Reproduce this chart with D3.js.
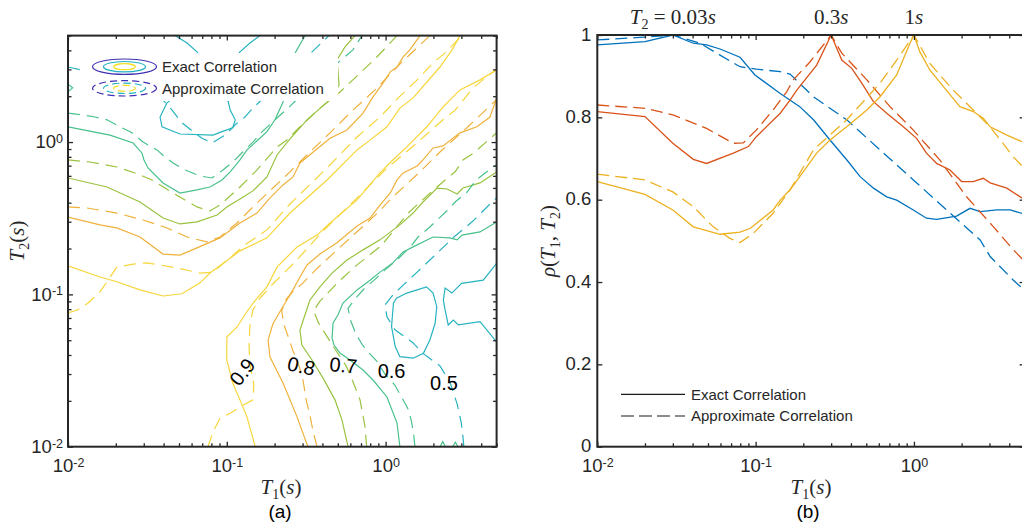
<!DOCTYPE html>
<html>
<head>
<meta charset="utf-8">
<title>Exact vs approximate correlation</title>
<script src="https://cdn.jsdelivr.net/npm/d3@7"></script>
<style>
  body { margin: 0; background: #fff; }
  svg text { font-family: "Liberation Sans", Arial, Helvetica, sans-serif; }
  svg text.tex { font-family: "Liberation Serif", "Times New Roman", serif; }
</style>
</head>
<body>
<svg id="fig" width="1022" height="529"></svg>
<script>
// ---------- ticks
var periodMajor = [0.01, 0.1, 1];
var periodMajorExp = ["-2", "-1", "0"];
var periodMinor = [0.02, 0.03, 0.04, 0.05, 0.06, 0.07, 0.08, 0.09,
                   0.2, 0.3, 0.4, 0.5, 0.6, 0.7, 0.8, 0.9, 2, 3, 4, 5];
var rhoTicks = [0, 0.2, 0.4, 0.6, 0.8, 1];
var rhoTickLabels = ["0", "0.2", "0.4", "0.6", "0.8", "1"];

// ---------- (a) contour lines, [T1, T2] in seconds
var exact90Above = [[0.01,0.154],[0.0159,0.13],[0.0203,0.121],[0.0284,0.107],[0.0397,0.0976],[0.0522,0.101],[0.0678,0.119],[0.0784,0.138],[0.121,0.193],[0.179,0.235],[0.25,0.342],[0.428,0.564],[0.661,0.888],[0.798,1.03],[1.02,1.26],[1.23,1.67],[1.49,1.95],[1.82,2.48],[2.2,3.11],[2.62,4.03],[2.94,5]];
var exact90Below = [[0.151,0.01],[0.134,0.0157],[0.121,0.0203],[0.109,0.0262],[0.1,0.0371],[0.1,0.0525],[0.116,0.0611],[0.136,0.079],[0.157,0.0961],[0.179,0.112],[0.207,0.151],[0.277,0.205],[0.37,0.245],[0.447,0.294],[0.661,0.417],[0.922,0.627],[1.11,0.763],[1.36,0.929],[1.82,1.26],[2.3,1.7],[2.94,2.2],[3.93,2.56],[5,2.97]];
var approx90Above = [[0.01,0.0755],[0.0114,0.079],[0.0134,0.0878],[0.0159,0.104],[0.0176,0.121],[0.0203,0.151],[0.0257,0.158],[0.0314,0.161],[0.038,0.156],[0.0486,0.149],[0.0678,0.138],[0.0819,0.14],[0.0974,0.163],[0.13,0.211],[0.179,0.265],[0.25,0.392],[0.428,0.676],[0.661,1.08],[0.922,1.46],[1.2,1.95],[1.58,2.56],[1.99,3.31],[2.37,3.85],[3.03,5]];
var approx90Below = [[0.0761,0.01],[0.0819,0.0125],[0.0906,0.0154],[0.105,0.0166],[0.121,0.0182],[0.146,0.0203],[0.148,0.0254],[0.14,0.0344],[0.138,0.0465],[0.14,0.063],[0.146,0.079],[0.162,0.0947],[0.201,0.121],[0.269,0.163],[0.398,0.257],[0.642,0.417],[0.991,0.656],[1.47,0.929],[2.3,1.4],[2.74,1.62],[3.55,2.27],[5,3.02]];

var exact80Above = [[0.01,0.322],[0.0159,0.286],[0.0203,0.273],[0.0284,0.238],[0.0397,0.184],[0.0507,0.181],[0.0649,0.202],[0.0906,0.235],[0.121,0.294],[0.155,0.342],[0.187,0.43],[0.226,0.523],[0.261,0.59],[0.289,0.729],[0.344,0.848],[0.447,1.06],[0.571,1.2],[0.721,1.55],[0.833,1.98],[0.963,2.44],[1.07,2.89],[1.18,3.11],[1.29,3.62],[1.42,4.03],[1.65,5]];
var exact80Below = [[0.324,0.01],[0.277,0.0157],[0.226,0.0262],[0.187,0.0388],[0.182,0.0502],[0.195,0.0639],[0.223,0.0814],[0.261,0.107],[0.289,0.13],[0.32,0.156],[0.386,0.184],[0.494,0.218],[0.661,0.281],[0.798,0.317],[0.922,0.386],[1.07,0.463],[1.18,0.564],[1.29,0.627],[1.58,0.697],[1.72,0.763],[1.99,0.915],[2.3,0.943],[2.94,1.15],[3.76,1.26],[4.54,1.46],[4.89,1.81],[5,1.95]];
var approx80Above = [[0.01,0.375],[0.0132,0.369],[0.0203,0.342],[0.0297,0.308],[0.042,0.273],[0.0562,0.238],[0.075,0.221],[0.0906,0.238],[0.116,0.294],[0.146,0.375],[0.195,0.499],[0.25,0.637],[0.334,0.861],[0.447,1.15],[0.623,1.62],[0.858,2.2],[1.27,3.36],[1.9,5]];
var approx80Below = [[0.37,0.01],[0.35,0.0125],[0.335,0.0158],[0.317,0.02],[0.3,0.0285],[0.28,0.036],[0.26,0.043],[0.245,0.052],[0.228,0.064],[0.222,0.078],[0.235,0.092],[0.262,0.105],[0.3,0.118],[0.365,0.146],[0.48,0.19],[0.64,0.25],[0.87,0.335],[1.12,0.44],[1.6,0.62],[2.2,0.86],[3.3,1.26],[5,1.9]];

var exact70Above = [[0.01,0.581],[0.0176,0.507],[0.0284,0.404],[0.0397,0.317],[0.0507,0.29],[0.0649,0.299],[0.0868,0.332],[0.1,0.375],[0.121,0.423],[0.146,0.478],[0.179,0.59],[0.207,0.823],[0.25,1.05],[0.32,1.4],[0.428,1.83],[0.48,2.13],[0.509,2.37],[0.501,2.97],[0.494,3.46],[0.555,4.21],[0.642,5]];
var exact70Below = [[0.58,0.01],[0.531,0.015],[0.48,0.0203],[0.403,0.0283],[0.344,0.0371],[0.297,0.0465],[0.289,0.0584],[0.306,0.07],[0.334,0.0919],[0.386,0.112],[0.46,0.138],[0.571,0.168],[0.721,0.196],[0.922,0.228],[1.23,0.286],[1.49,0.342],[1.72,0.404],[2.11,0.499],[2.44,0.492],[2.82,0.456],[3.07,0.499],[3.93,0.539],[5,0.637]];
var approx70Above = [[0.01,0.763],[0.0138,0.74],[0.0203,0.686],[0.0264,0.627],[0.0338,0.564],[0.0458,0.463],[0.0649,0.375],[0.0784,0.353],[0.0906,0.386],[0.121,0.507],[0.155,0.656],[0.207,0.929],[0.239,1.03],[0.289,1.26],[0.386,1.67],[0.516,2.13],[0.642,2.64],[0.87,3.57],[1.18,5]];
var approx70Below = [[0.76,0.01],[0.74,0.0138],[0.69,0.0203],[0.625,0.0265],[0.565,0.0338],[0.465,0.046],[0.378,0.065],[0.352,0.078],[0.385,0.09],[0.505,0.121],[0.655,0.155],[0.93,0.207],[1.05,0.24],[1.38,0.34],[1.85,0.45],[2.37,0.564],[2.74,0.638],[3.07,0.763],[3.6,0.85],[5,1.15]];

var exact60Above = [[0.01,1.26],[0.0184,1.11],[0.0257,0.986],[0.0292,0.848],[0.0301,0.763],[0.0319,0.676],[0.0397,0.539],[0.0507,0.463],[0.0649,0.485],[0.0784,0.507],[0.0933,0.564],[0.105,0.637],[0.121,0.763],[0.134,0.888],[0.155,1.02],[0.179,1.17],[0.201,1.4],[0.226,1.83],[0.239,2.52],[0.265,3.73],[0.311,5]];
var exact60Below = [[1.23,0.01],[1.18,0.0143],[1.02,0.0212],[0.833,0.0274],[0.721,0.0319],[0.597,0.0371],[0.516,0.0412],[0.473,0.0465],[0.46,0.0517],[0.467,0.0649],[0.501,0.0732],[0.539,0.0878],[0.661,0.107],[0.798,0.124],[0.922,0.14],[1.11,0.161],[1.29,0.19],[1.49,0.205],[1.99,0.238],[2.54,0.235],[2.82,0.228],[3.03,0.245],[3.93,0.257],[5,0.299]];
var exact60EdgeBump = [[0.01,2.4],[0.0107,2.27],[0.01,2.14]];
var exact60BaseBumpA = [[2.2,0.01],[2.29,0.0108],[2.38,0.01]];
var exact60BaseBumpB = [[2.65,0.01],[2.75,0.0107],[2.86,0.01]];
var approx60Above = [[0.01,1.55],[0.0122,1.51],[0.0148,1.46],[0.0176,1.4],[0.0213,1.26],[0.0253,1.15],[0.0297,1.0],[0.0363,0.888],[0.0408,0.798],[0.0458,0.729],[0.0546,0.656],[0.0678,0.599],[0.0807,0.581],[0.0946,0.656],[0.109,0.74],[0.126,0.861],[0.146,1.0],[0.167,1.17],[0.21,1.46],[0.243,1.67],[0.349,2.41],[0.46,3.07],[0.623,4.03],[0.71,5]];
var approx60Below = [[1.53,0.01],[1.5,0.0123],[1.45,0.0149],[1.38,0.0178],[1.25,0.0215],[1.14,0.0255],[0.99,0.03],[0.88,0.0365],[0.79,0.041],[0.72,0.046],[0.65,0.055],[0.6,0.068],[0.58,0.081],[0.65,0.095],[0.74,0.11],[0.86,0.126],[1.0,0.146],[1.17,0.167],[1.46,0.21],[1.6,0.238],[1.9,0.277],[2.11,0.308],[2.47,0.358],[2.74,0.404],[3.26,0.47],[3.7,0.56],[4.23,0.627],[5,0.71]];

var exact50LoopAbove = [[0.042,1.81],[0.038,1.46],[0.0391,1.26],[0.0507,1.13],[0.0819,1.11],[0.0933,1.17],[0.109,1.24],[0.113,1.4],[0.105,1.62],[0.102,1.86],[0.0784,1.98],[0.0587,2.01],[0.0472,1.98]];
var exact50LoopBelow = [[1.12,0.0874],[1.09,0.0614],[1.15,0.0454],[1.23,0.039],[1.49,0.0381],[1.73,0.041],[1.9,0.0502],[2.05,0.0646],[2.1,0.083],[1.99,0.102],[1.81,0.112],[1.58,0.107],[1.36,0.102],[1.17,0.0943]];
var exact50VAbove = [[0.0472,5],[0.0562,4.47],[0.0649,3.91],[0.075,3.21],[0.0831,2.56],[0.0855,2.3],[0.0933,2.56],[0.108,3.36],[0.121,3.91],[0.14,4.47],[0.162,5]];
var exact50VBelow = [[5,0.16],[4.12,0.124],[3.01,0.118],[2.61,0.102],[2.37,0.11],[2.31,0.0919],[2.37,0.079],[2.48,0.063],[2.67,0.0679],[2.87,0.063],[3.93,0.0662],[5,0.0487]];
var approx50Above = [[0.01,3.11],[0.0122,2.97],[0.019,2.8],[0.0266,2.54],[0.034,2.2],[0.0408,1.83],[0.0452,1.62],[0.0522,1.34],[0.0613,1.17],[0.0698,1.06],[0.0807,0.986],[0.0974,1.11],[0.113,1.3],[0.13,1.46],[0.146,1.67],[0.187,2.13],[0.25,2.84],[0.334,3.79],[0.44,5]];
var approx50Below = [[3.11,0.01],[3.07,0.0116],[3.0,0.0143],[2.82,0.0191],[2.54,0.0266],[2.2,0.0339],[1.72,0.041],[1.49,0.048],[1.33,0.0525],[1.15,0.0584],[1.02,0.0711],[0.991,0.0852],[1.11,0.099],[1.29,0.115],[1.58,0.14],[2.08,0.184],[2.74,0.242],[3.55,0.303],[4.61,0.398],[5,0.43]];

var contourLabelText = ["0.9", "0.8", "0.7", "0.6", "0.5"];
var contourLabelT1 = [0.125, 0.295, 0.543, 1.09, 2.33];
var contourLabelT2 = [0.031, 0.0339, 0.0344, 0.0314, 0.0264];

// ---------- (b) rho(T1, T2) for fixed T2, [T1, rho]
var refPeriods = [0.03, 0.3, 1];
var refPeriodText = ["0.03", "0.3", "1"];
var rhoExact003 = [[0.01,0.976],[0.02,0.984],[0.03,1.0],[0.0404,0.98],[0.049,0.976],[0.0596,0.966],[0.0797,0.946],[0.099,0.903],[0.143,0.858],[0.19,0.826],[0.232,0.794],[0.295,0.745],[0.376,0.697],[0.457,0.656],[0.555,0.628],[0.673,0.607],[0.778,0.599],[0.991,0.575],[1.2,0.555],[1.39,0.552],[1.86,0.56],[2.26,0.579],[2.62,0.571],[3.34,0.575],[4.05,0.575],[5,0.565]];
var rhoApprox003 = [[0.01,0.988],[0.0186,0.994],[0.03,1.0],[0.0446,0.98],[0.0596,0.951],[0.0797,0.923],[0.101,0.917],[0.143,0.911],[0.165,0.905],[0.232,0.85],[0.376,0.794],[0.611,0.721],[0.991,0.648],[1.61,0.575],[2.62,0.502],[3.03,0.462],[4.23,0.405],[5,0.38]];
var rhoExact03 = [[0.01,0.814],[0.02,0.802],[0.03,0.737],[0.0404,0.698],[0.049,0.688],[0.0723,0.713],[0.09,0.729],[0.101,0.753],[0.143,0.81],[0.165,0.842],[0.182,0.866],[0.243,0.927],[0.3,1.0],[0.35,0.939],[0.405,0.919],[0.468,0.883],[0.555,0.838],[0.673,0.81],[0.857,0.777],[1.04,0.749],[1.2,0.713],[1.39,0.688],[1.69,0.672],[2.0,0.644],[2.37,0.644],[2.74,0.652],[3.03,0.641],[3.86,0.628],[5,0.6]];
var rhoApprox03 = [[0.01,0.83],[0.02,0.822],[0.03,0.806],[0.049,0.773],[0.0723,0.737],[0.0836,0.738],[0.101,0.769],[0.129,0.818],[0.157,0.862],[0.173,0.891],[0.221,0.935],[0.3,1.0],[0.35,0.956],[0.504,0.891],[0.706,0.826],[0.991,0.769],[1.46,0.696],[2.15,0.607],[3.18,0.534],[4.25,0.478],[5,0.45]];
var rhoExact1 = [[0.01,0.644],[0.02,0.613],[0.03,0.575],[0.0404,0.534],[0.0596,0.516],[0.0797,0.521],[0.0922,0.53],[0.129,0.575],[0.143,0.599],[0.165,0.624],[0.19,0.656],[0.243,0.713],[0.295,0.745],[0.376,0.777],[0.504,0.818],[0.611,0.85],[0.778,0.903],[0.944,0.98],[1.0,1.0],[1.09,0.959],[1.26,0.915],[1.54,0.874],[1.95,0.826],[2.37,0.814],[2.74,0.798],[3.03,0.777],[3.86,0.757],[5,0.738]];
var rhoApprox1 = [[0.01,0.662],[0.02,0.648],[0.03,0.619],[0.0404,0.583],[0.054,0.534],[0.0689,0.506],[0.0797,0.496],[0.0966,0.518],[0.129,0.567],[0.165,0.624],[0.232,0.721],[0.376,0.794],[0.611,0.883],[0.778,0.939],[1.0,1.0],[1.26,0.931],[1.77,0.866],[2.37,0.818],[3.03,0.777],[4.25,0.704],[5,0.675]];

// ---------- tables for drawing
var contours = [
  {level: 0.9, kind: "exact", pts: exact90Above}, {level: 0.9, kind: "exact", pts: exact90Below},
  {level: 0.9, kind: "approx", pts: approx90Above}, {level: 0.9, kind: "approx", pts: approx90Below},
  {level: 0.8, kind: "exact", pts: exact80Above}, {level: 0.8, kind: "exact", pts: exact80Below},
  {level: 0.8, kind: "approx", pts: approx80Above}, {level: 0.8, kind: "approx", pts: approx80Below},
  {level: 0.7, kind: "exact", pts: exact70Above}, {level: 0.7, kind: "exact", pts: exact70Below},
  {level: 0.7, kind: "approx", pts: approx70Above}, {level: 0.7, kind: "approx", pts: approx70Below},
  {level: 0.6, kind: "exact", pts: exact60Above}, {level: 0.6, kind: "exact", pts: exact60Below},
  {level: 0.6, kind: "exact", pts: exact60EdgeBump}, {level: 0.6, kind: "exact", pts: exact60BaseBumpA},
  {level: 0.6, kind: "exact", pts: exact60BaseBumpB},
  {level: 0.6, kind: "approx", pts: approx60Above}, {level: 0.6, kind: "approx", pts: approx60Below},
  {level: 0.5, kind: "exact", pts: exact50LoopAbove, closed: true}, {level: 0.5, kind: "exact", pts: exact50LoopBelow, closed: true},
  {level: 0.5, kind: "exact", pts: exact50VAbove}, {level: 0.5, kind: "exact", pts: exact50VBelow},
  {level: 0.5, kind: "approx", pts: approx50Above}, {level: 0.5, kind: "approx", pts: approx50Below}
];
var curves = [
  {t2: 0.03, kind: "exact", pts: rhoExact003}, {t2: 0.03, kind: "approx", pts: rhoApprox003},
  {t2: 0.3, kind: "exact", pts: rhoExact03}, {t2: 0.3, kind: "approx", pts: rhoApprox03},
  {t2: 1, kind: "exact", pts: rhoExact1}, {t2: 1, kind: "approx", pts: rhoApprox1}
];

var levelColor = {0.5: "#27b3bf", 0.6: "#48c18c", 0.7: "#99c23e", 0.8: "#efb13b", 0.9: "#f7d63a"};
var periodColor = {0.03: "#0072bd", 0.3: "#d95319", 1: "#edb120"};
var ink = "#262626";

var svg = d3.select("#fig");

var xa = d3.scaleLog().domain([0.01, 5]).range([68, 496.6]);
var ya = d3.scaleLog().domain([0.01, 5]).range([446.7, 35.6]);
var xb = d3.scaleLog().domain([0.01, 5]).range([597.3, 1024.6]);
var yb = d3.scaleLinear().domain([0, 1]).range([446.7, 35]);

var defs = svg.append("defs");
function addClip(id, x, y) {
  defs.append("clipPath").attr("id", id).append("rect")
    .attr("x", x.range()[0]).attr("y", y.range()[1])
    .attr("width", x.range()[1] - x.range()[0])
    .attr("height", y.range()[0] - y.range()[1]);
}
addClip("clipA", xa, ya);
addClip("clipB", xb, yb);

// ---------- (a) contours
var lineA = d3.line().x(function(d) { return xa(d[0]); }).y(function(d) { return ya(d[1]); });
var gA = svg.append("g").attr("clip-path", "url(#clipA)");
contours.forEach(function(c) {
  lineA.curve(c.closed ? d3.curveLinearClosed : d3.curveLinear);
  gA.append("path")
    .attr("d", lineA(c.pts))
    .attr("fill", "none")
    .attr("stroke", levelColor[c.level])
    .attr("stroke-width", 1.2)
    .attr("stroke-dasharray", c.kind == "approx" ? "12,7" : null);
});

// legend of (a), white background, no border
var legA = svg.append("g");
legA.append("rect").attr("x", 86).attr("y", 53).attr("width", 252).attr("height", 48).attr("fill", "#fff");
[{cy: 66.7, dash: null, txt: "Exact Correlation"},
 {cy: 88.3, dash: "7,4", txt: "Approximate Correlation"}].forEach(function(r) {
  [{rx: 32, ry: 7.7, c: "#3f30b3"}, {rx: 21, ry: 5.2, c: "#22b1c2"}, {rx: 10.8, ry: 3, c: "#f2df1e"}].forEach(function(e) {
    legA.append("ellipse").attr("cx", 124.5).attr("cy", r.cy).attr("rx", e.rx).attr("ry", e.ry)
      .attr("fill", "none").attr("stroke", e.c).attr("stroke-width", 1.2)
      .attr("stroke-dasharray", r.dash);
  });
  legA.append("text").attr("x", 162).attr("y", r.cy + 5.4).attr("font-size", 15)
    .attr("fill", ink).text(r.txt);
});

// contour level labels
var labelAngle = [-52, 12, 5, 0, 0];
contourLabelText.forEach(function(t, i) {
  var px = xa(contourLabelT1[i]), py = ya(contourLabelT2[i]);
  svg.append("text")
    .attr("transform", "translate(" + px + "," + py + ") rotate(" + labelAngle[i] + ")")
    .attr("text-anchor", "middle").attr("dy", "0.36em")
    .attr("font-size", 20).attr("fill", "#000").text(t);
});

// ---------- (b) curves
var lineB = d3.line().x(function(d) { return xb(d[0]); }).y(function(d) { return yb(d[1]); });
var gB = svg.append("g").attr("clip-path", "url(#clipB)");
curves.forEach(function(c) {
  gB.append("path")
    .attr("d", lineB(c.pts))
    .attr("fill", "none")
    .attr("stroke", periodColor[c.t2])
    .attr("stroke-width", 1.3)
    .attr("stroke-dasharray", c.kind == "approx" ? "12,6" : null);
});

// legend of (b)
[{y: 394.3, dash: null, txt: "Exact Correlation"},
 {y: 416, dash: "13,5", txt: "Approximate Correlation"}].forEach(function(r) {
  svg.append("line").attr("x1", 621).attr("x2", 685).attr("y1", r.y).attr("y2", r.y)
    .attr("stroke", "#1a1a1a").attr("stroke-width", 1.2).attr("stroke-dasharray", r.dash);
  svg.append("text").attr("x", 691).attr("y", r.y + 5.4).attr("font-size", 15)
    .attr("fill", ink).text(r.txt);
});

// ---------- axes
function addAxis(axisFn, scale, transform, values, size, pad, fmt) {
  var g = svg.append("g").attr("transform", transform)
    .call(axisFn(scale).tickValues(values).tickSize(-size).tickPadding(pad).tickFormat(fmt));
  g.select(".domain").remove();
  g.attr("color", ink).attr("font-size", 18.5).attr("font-family", null);
  g.selectAll("line").attr("stroke-width", 1.3);
  g.selectAll("text").attr("fill", ink);
  return g;
}
function powerLabels(g) {
  g.selectAll(".tick text").append("tspan")
    .attr("dy", -5.5).attr("font-size", 12.5)
    .text(function(d, i) { return periodMajorExp[i]; });
}
var none = function() { return ""; };
var ten = function() { return "10"; };

// panel (a)
powerLabels(addAxis(d3.axisBottom, xa, "translate(0,446.7)", periodMajor, 5, 12.5, ten));
addAxis(d3.axisBottom, xa, "translate(0,446.7)", periodMinor, 3.5, 10, none);
addAxis(d3.axisTop, xa, "translate(0,35.6)", periodMajor, 5, 3, none);
addAxis(d3.axisTop, xa, "translate(0,35.6)", periodMinor, 3.5, 3, none);
powerLabels(addAxis(d3.axisLeft, ya, "translate(68,0)", periodMajor, 5, 5, ten));
addAxis(d3.axisLeft, ya, "translate(68,0)", periodMinor, 3.5, 5, none);
addAxis(d3.axisRight, ya, "translate(496.6,0)", periodMajor, 5, 3, none);
addAxis(d3.axisRight, ya, "translate(496.6,0)", periodMinor, 3.5, 3, none);

// panel (b)
powerLabels(addAxis(d3.axisBottom, xb, "translate(0,446.7)", periodMajor, 5, 12.5, ten));
addAxis(d3.axisBottom, xb, "translate(0,446.7)", periodMinor, 3.5, 10, none);
addAxis(d3.axisTop, xb, "translate(0,35)", periodMajor, 5, 3, none);
addAxis(d3.axisTop, xb, "translate(0,35)", periodMinor, 3.5, 3, none);
addAxis(d3.axisLeft, yb, "translate(597.3,0)", rhoTicks, 5, 6, function(d, i) { return rhoTickLabels[i]; })
  .selectAll(".tick text").attr("dy", "0.27em");
addAxis(d3.axisRight, yb, "translate(1024.6,0)", rhoTicks, 5, 3, none);

// boxes
[[xa, ya], [xb, yb]].forEach(function(p) {
  svg.append("rect")
    .attr("x", p[0].range()[0]).attr("y", p[1].range()[1])
    .attr("width", p[0].range()[1] - p[0].range()[0])
    .attr("height", p[1].range()[0] - p[1].range()[1])
    .attr("fill", "none").attr("stroke", ink).attr("stroke-width", 2);
});

// ---------- titles (LaTeX style)
function texLabel(sel, parts) {
  parts.forEach(function(p) {
    var t = sel.append("tspan").text(p[0]);
    if (p[1] == "i") t.attr("font-style", "italic");
    if (p[1] == "sub") t.attr("font-size", 14).attr("dy", 5);
    if (p[2]) t.attr("dy", p[2]);
  });
}
var t1Parts = [["T", "i"], ["1", "sub"], ["(", "", -5], ["s", "i"], [")", ""]];
texLabel(svg.append("text").attr("class", "tex").attr("x", 281).attr("y", 494)
  .attr("text-anchor", "middle").attr("font-size", 21).attr("fill", ink), t1Parts);
texLabel(svg.append("text").attr("class", "tex").attr("x", 811).attr("y", 494)
  .attr("text-anchor", "middle").attr("font-size", 21).attr("fill", ink), t1Parts);
texLabel(svg.append("text").attr("class", "tex")
  .attr("transform", "translate(24,241) rotate(-90)")
  .attr("text-anchor", "middle").attr("font-size", 21).attr("fill", ink),
  [["T", "i"], ["2", "sub"], ["(", "", -5], ["s", "i"], [")", ""]]);
texLabel(svg.append("text").attr("class", "tex")
  .attr("transform", "translate(555,241) rotate(-90)")
  .attr("text-anchor", "middle").attr("font-size", 21).attr("fill", ink),
  [["\u03c1", "i"], ["(", ""], ["T", "i"], ["1", "sub"], [", ", "", -5], ["T", "i"], ["2", "sub"], [")", "", -5]]);

refPeriods.forEach(function(p, i) {
  var txt = svg.append("text").attr("class", "tex").attr("x", xb(p)).attr("y", 24)
    .attr("text-anchor", "middle").attr("font-size", 21).attr("fill", ink);
  var parts = i == 0 ? [["T", "i"], ["2", "sub"], [" = " + refPeriodText[i], "", -5], ["s", "i"]]
                     : [[refPeriodText[i], ""], ["s", "i"]];
  texLabel(txt, parts);
});

// panel captions
svg.append("text").attr("x", 280).attr("y", 518).attr("text-anchor", "middle")
  .attr("font-size", 19).attr("fill", "#000").text("(a)");
svg.append("text").attr("x", 808).attr("y", 518).attr("text-anchor", "middle")
  .attr("font-size", 19).attr("fill", "#000").text("(b)");
</script>
</body>
</html>
